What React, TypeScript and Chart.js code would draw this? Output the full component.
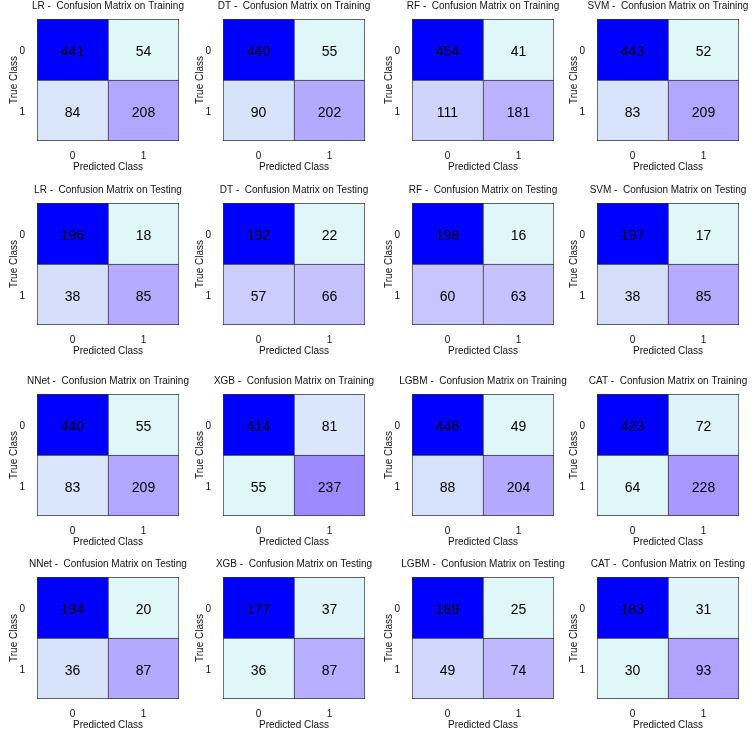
import React, { useEffect, useRef } from 'react';
import { Chart, registerables } from 'chart.js';

Chart.register(...registerables);

// Models in grid order: first four in rows 1-2, last four in rows 3-4
const MODELS = ['LR', 'DT', 'RF', 'SVM', 'NNet', 'XGB', 'LGBM', 'CAT'];
const CLASS_LABELS = ['0', '1'];

// Confusion counts per model as [TN, FP, FN, TP]
const TRAIN_COUNTS = [
  [441, 54, 84, 208],
  [440, 55, 90, 202],
  [454, 41, 111, 181],
  [443, 52, 83, 209],
  [440, 55, 83, 209],
  [414, 81, 55, 237],
  [446, 49, 88, 204],
  [423, 72, 64, 228],
];
const TEST_COUNTS = [
  [196, 18, 38, 85],
  [192, 22, 57, 66],
  [198, 16, 60, 63],
  [197, 17, 38, 85],
  [194, 20, 36, 87],
  [177, 37, 36, 87],
  [189, 25, 49, 74],
  [183, 31, 30, 93],
];

const FONT = "'Liberation Sans', Arial, sans-serif";
const INK = '#111111';

// Low-to-high fill ramp, normalised per matrix
const RAMP: [number, number[]][] = [
  [0.0, [224, 247, 250]],
  [0.08, [216, 228, 251]],
  [0.2, [204, 207, 252]],
  [0.3, [192, 184, 255]],
  [0.4, [179, 166, 255]],
  [0.5, [160, 140, 255]],
  [1.0, [0, 0, 255]],
];

function rampColor(t: number): string {
  const v = Math.max(0, Math.min(1, t));
  for (let i = 1; i < RAMP.length; i++) {
    const [t1, c1] = RAMP[i];
    const [t0, c0] = RAMP[i - 1];
    if (v <= t1) {
      const f = (v - t0) / (t1 - t0);
      const c = c0.map((a, k) => Math.round(a + (c1[k] - a) * f));
      return `rgb(${c[0]},${c[1]},${c[2]})`;
    }
  }
  return 'rgb(0,0,255)';
}

// Panel geometry (plot area origin of each column / row)
const COL_X = [37, 223, 412, 597];
const ROW_Y = [19, 203, 394, 577];
const AXIS_W = 37;
const TITLE_H = 19;
const PLOT_W = 142;
const PLOT_H = 122;
const XAXIS_H = 32;

const cellLabels = {
  id: 'cellLabels',
  afterDatasetsDraw(chart: any) {
    const { ctx } = chart;
    ctx.save();
    ctx.font = `14px ${FONT}`;
    ctx.fillStyle = '#000';
    ctx.textAlign = 'center';
    ctx.textBaseline = 'alphabetic';
    chart.data.datasets.forEach((ds: any, di: number) => {
      const meta = chart.getDatasetMeta(di);
      meta.data.forEach((el: any, i: number) => {
        const { x, y, base } = el.getProps(['x', 'y', 'base'], true);
        const cy = (y + base) / 2;
        ctx.fillText(String(ds.counts[i]), x, cy + 6.5);
      });
    });
    ctx.restore();
  },
};

type PanelProps = { title: string; counts: number[]; col: number; row: number };

function ConfusionPanel({ title, counts, col, row }: PanelProps) {
  const ref = useRef<HTMLCanvasElement | null>(null);

  useEffect(() => {
    if (!ref.current) return;
    const lo = Math.min(...counts);
    const hi = Math.max(...counts);
    const fill = (v: number) => rampColor((v - lo) / (hi - lo));

    // bottom row: true class 1 -> [FN, TP]; top row: true class 0 -> [TN, FP]
    const bottomCounts = [counts[2], counts[3]];
    const topCounts = [counts[0], counts[1]];

    const borderFor = (isBottom: boolean) => (ctx: any) => ({
      top: 1,
      left: 1,
      right: ctx.dataIndex === 1 ? 1 : 0,
      bottom: isBottom ? 1 : 0,
    });

    const chart = new Chart(ref.current, {
      type: 'bar',
      data: {
        labels: CLASS_LABELS,
        datasets: [
          {
            data: [1, 1],
            counts: bottomCounts,
            backgroundColor: bottomCounts.map(fill),
            borderColor: '#333333',
            borderWidth: borderFor(true),
            borderSkipped: false,
            barPercentage: 1,
            categoryPercentage: 1,
          } as any,
          {
            data: [1, 1],
            counts: topCounts,
            backgroundColor: topCounts.map(fill),
            borderColor: '#333333',
            borderWidth: borderFor(false),
            borderSkipped: false,
            barPercentage: 1,
            categoryPercentage: 1,
          } as any,
        ],
      },
      options: {
        responsive: false,
        animation: false,
        devicePixelRatio: 1,
        layout: { padding: 0 },
        plugins: {
          legend: { display: false },
          tooltip: { enabled: false },
          title: {
            display: true,
            text: title,
            color: INK,
            font: { family: FONT, size: 10, weight: 'normal' },
            padding: { top: 0, bottom: 7 },
          },
        },
        scales: {
          x: {
            type: 'category',
            stacked: true,
            offset: true,
            grid: { display: false, drawTicks: false },
            border: { display: false },
            ticks: { padding: 9, color: INK, font: { family: FONT, size: 10 } },
            title: {
              display: true,
              text: 'Predicted Class',
              color: INK,
              font: { family: FONT, size: 10 },
              padding: { top: 0, bottom: 0 },
            },
            afterFit: (s: any) => {
              s.height = XAXIS_H;
            },
          },
          y: {
            type: 'linear',
            stacked: true,
            min: 0,
            max: 2,
            grid: { display: false, drawTicks: false },
            border: { display: false },
            afterBuildTicks: (s: any) => {
              s.ticks = [{ value: 0.5 }, { value: 1.5 }];
            },
            ticks: {
              padding: 12,
              labelOffset: 2,
              autoSkip: false,
              color: INK,
              font: { family: FONT, size: 10 },
              callback: (v: any) => (Number(v) > 1 ? CLASS_LABELS[0] : CLASS_LABELS[1]),
            },
            title: {
              display: true,
              text: 'True Class',
              color: INK,
              font: { family: FONT, size: 10 },
              padding: { top: 8, bottom: 0 },
            },
            afterFit: (s: any) => {
              s.width = AXIS_W;
            },
          },
          // blank right-hand gutter, mirrors the left axis so the title sits over the plot
          gutter: {
            type: 'linear',
            position: 'right',
            display: true,
            grid: { display: false, drawTicks: false },
            border: { display: false },
            ticks: { display: false },
            afterFit: (s: any) => {
              s.width = AXIS_W;
            },
          },
        },
      },
      plugins: [cellLabels],
    });
    return () => chart.destroy();
  }, [title, counts]);

  const w = AXIS_W + PLOT_W + AXIS_W;
  const h = TITLE_H + PLOT_H + XAXIS_H;
  return (
    <canvas
      ref={ref}
      width={w}
      height={h}
      style={{
        position: 'absolute',
        left: COL_X[col] - AXIS_W,
        top: ROW_Y[row] - TITLE_H,
        width: w,
        height: h,
      }}
    />
  );
}

export default function App() {
  const panels: PanelProps[] = [];
  MODELS.forEach((m, i) => {
    const col = i % 4;
    const block = Math.floor(i / 4) * 2;
    panels.push({ title: `${m} -  Confusion Matrix on Training`, counts: TRAIN_COUNTS[i], col, row: block });
    panels.push({ title: `${m} -  Confusion Matrix on Testing`, counts: TEST_COUNTS[i], col, row: block + 1 });
  });
  return (
    <div
      style={{
        position: 'absolute',
        left: 0,
        top: 0,
        width: 756,
        height: 730,
        overflow: 'hidden',
        background: '#ffffff',
      }}
    >
      {panels.map((p) => (
        <ConfusionPanel key={p.title} {...p} />
      ))}
    </div>
  );
}
